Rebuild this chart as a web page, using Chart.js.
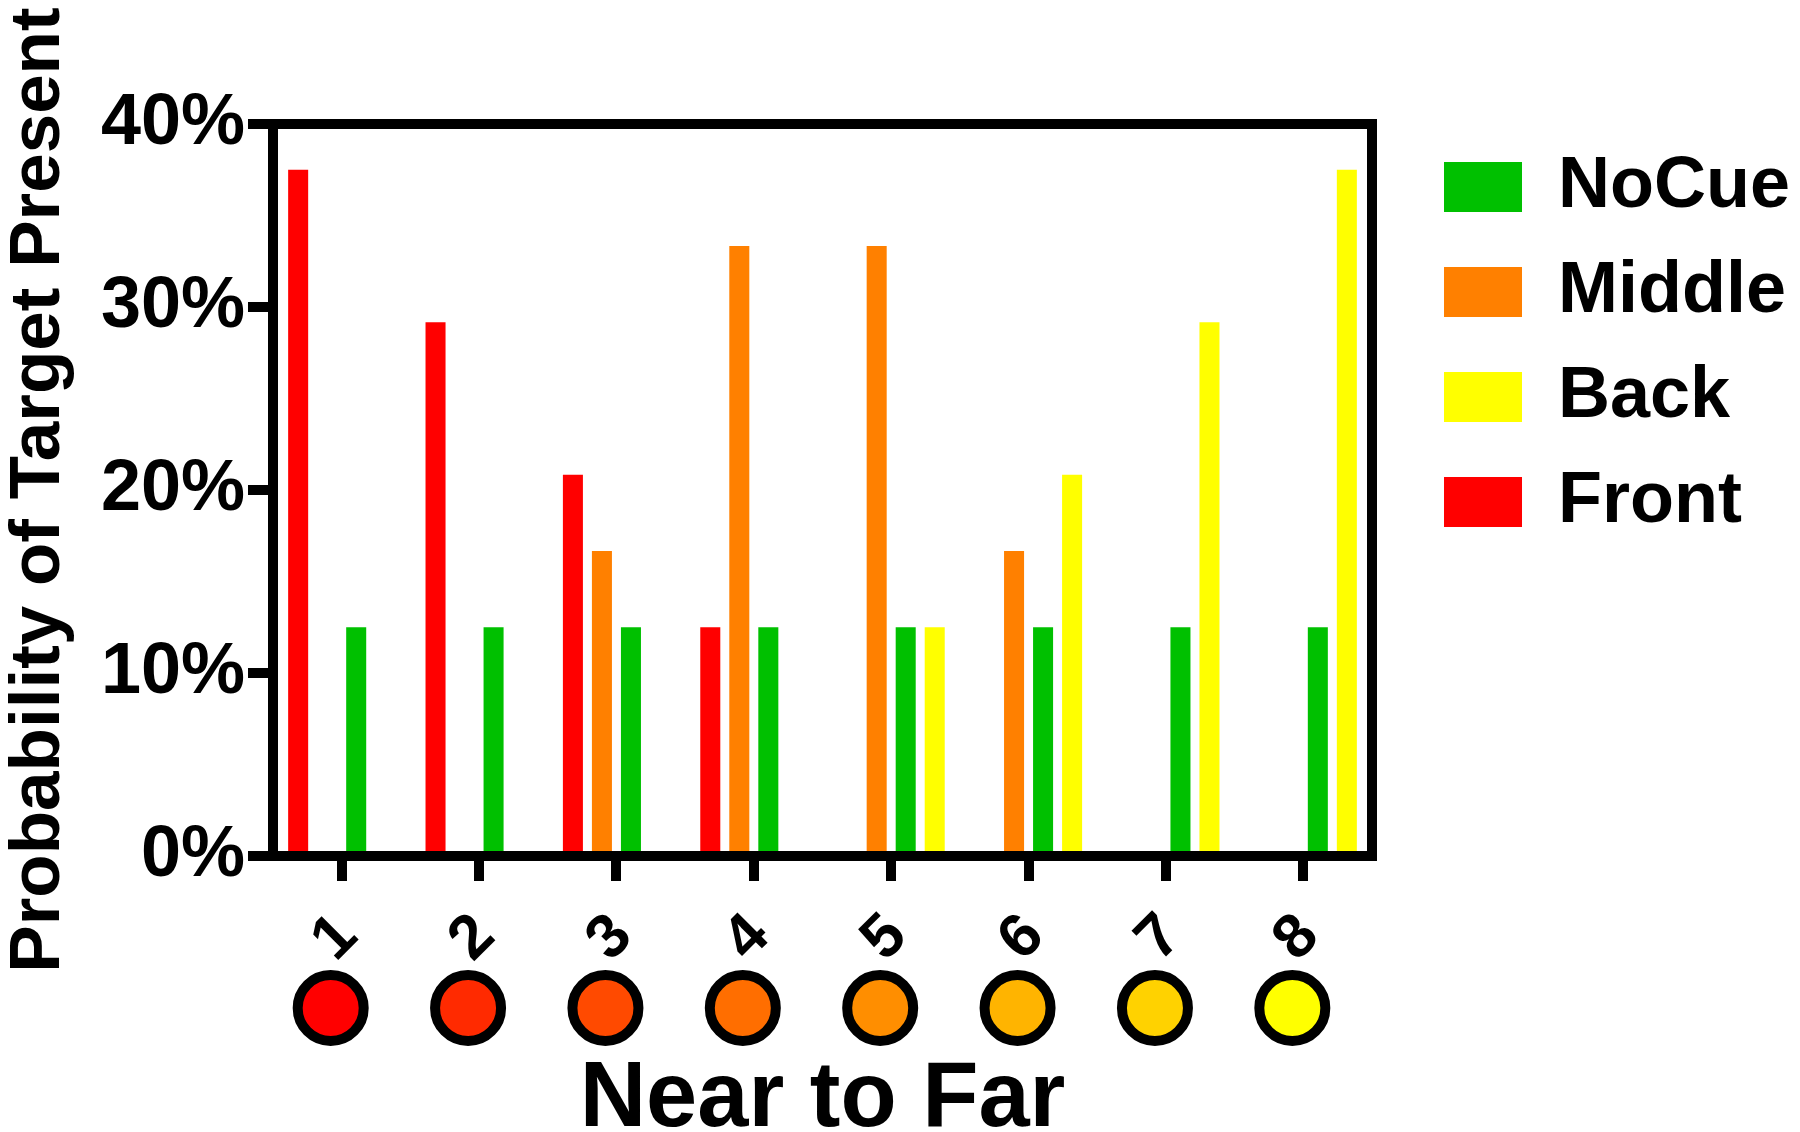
<!DOCTYPE html>
<html>
<head>
<meta charset="utf-8">
<title>Probability of Target Present</title>
<script src="https://cdn.jsdelivr.net/npm/chart.js@4.4.1/dist/chart.umd.min.js"></script>
<style>
  html, body { margin: 0; padding: 0; background: #fff; }
  canvas { display: block; }
</style>
</head>
<body>
<canvas id="chart" width="1800" height="1132"></canvas>
<script>
// values (percent)
const positions = ["1", "2", "3", "4", "5", "6", "7", "8"];
const front = [37.5, 29.17, 20.83, 12.5, null, null, null, null];
const middle = [null, null, 16.67, 33.33, 33.33, 16.67, null, null];
const noCue = [12.5, 12.5, 12.5, 12.5, 12.5, 12.5, 12.5, 12.5];
const back = [null, null, null, null, 12.5, 20.83, 29.17, 37.5];
const yTicks = [0, 10, 20, 30, 40];
const legendOrder = ["NoCue", "Middle", "Back", "Front"];
// colour dots under each position label (near = red, far = yellow)
const markerColors = ["#ff0000", "#ff2a00", "#ff4a00", "#ff6e00", "#ff8e00", "#ffb400", "#ffd200", "#ffff00"];

Chart.defaults.font.family = "'Liberation Sans', Arial, sans-serif";
Chart.defaults.color = "#000";

// dots drawn under the x tick labels
const markerPlugin = {
  id: "markers",
  afterDraw(chart) {
    const { ctx, chartArea } = chart;
    const xs = chart.scales.x;
    ctx.save();
    ctx.lineWidth = 10;
    ctx.strokeStyle = "#000";
    markerColors.forEach((c, i) => {
      const cx = xs.getPixelForTick(i) - 11;
      const cy = chartArea.bottom + 152;
      ctx.beginPath();
      ctx.arc(cx, cy, 33, 0, Math.PI * 2);
      ctx.fillStyle = c;
      ctx.fill();
      ctx.stroke();
    });
    ctx.restore();
  }
};

const bar = (label, data, color) => ({
  label: label,
  data: data,
  backgroundColor: color,
  borderWidth: 0,
  xAxisID: "x",
  yAxisID: "y",
  categoryPercentage: 0.845,
  barPercentage: 0.69,
});

// order in the group: Front, Middle, NoCue, Back
const datasets = [
  bar("Front", front, "#ff0000"),
  bar("Middle", middle, "#ff8000"),
  bar("NoCue", noCue, "#00c000"),
  bar("Back", back, "#ffff00"),
];

// plain frame-only axes for the top and right edges
const frameAxis = (position, fit) => ({
  type: "linear",
  position: position,
  min: 0,
  max: 1,
  display: true,
  ticks: { display: false },
  grid: { display: true, drawOnChartArea: false, drawTicks: false, lineWidth: 10, color: "#000" },
  border: { display: true, color: "#000", width: 10 },
  afterFit: fit,
});

new Chart(document.getElementById("chart"), {
  type: "bar",
  data: { labels: positions, datasets: datasets },
  plugins: [markerPlugin],
  options: {
    responsive: false,
    animation: false,
    layout: { padding: { top: 118, right: 0, bottom: 0, left: 0 } },
    plugins: {
      tooltip: { enabled: false },
      legend: {
        position: "right",
        align: "start",
        maxWidth: 400,
        labels: {
          color: "#000",
          font: { size: 72, weight: "bold" },
          boxWidth: 78,
          boxHeight: 50,
          padding: 33,
          sort: (a, b) => legendOrder.indexOf(a.text) - legendOrder.indexOf(b.text),
        },
      },
    },
    scales: {
      x: {
        position: "bottom",
        z: 1,
        offset: true,
        grid: { offset: false, drawOnChartArea: false, drawTicks: true, tickLength: 25, lineWidth: 10, color: "#000" },
        border: { display: true, color: "#000", width: 10 },
        ticks: {
          color: "#000",
          font: { size: 62, weight: "bold" },
          minRotation: 45,
          maxRotation: 45,
          padding: 19,
          labelOffset: 6,
          autoSkip: false,
        },
        title: {
          display: true,
          text: "Near to Far",
          color: "#000",
          font: { size: 92, weight: "bold", lineHeight: 0.68 },
          padding: 0,
        },
        afterFit: (s) => { s.height = 276; },
      },
      y: {
        min: 0,
        max: 40,
        z: 1,
        afterBuildTicks: (s) => { s.ticks = yTicks.map((v) => ({ value: v })); },
        grid: { drawOnChartArea: false, drawTicks: true, tickLength: 25, lineWidth: 10, color: "#000" },
        border: { display: true, color: "#000", width: 10 },
        ticks: {
          color: "#000",
          font: { size: 72, weight: "bold" },
          padding: 3,
          callback: (v) => v + "%",
        },
        title: {
          display: true,
          text: "Probability of Target Present",
          color: "#000",
          font: { size: 71, weight: "bold", lineHeight: 1 },
          padding: { top: 4, bottom: 0 },
        },
        afterFit: (s) => { s.width = 273; },
      },
      xTop: frameAxis("top", (s) => { s.height = 6; }),
      yRight: frameAxis("right", (s) => { s.width = 39; }),
    },
  },
});
</script>
</body>
</html>
